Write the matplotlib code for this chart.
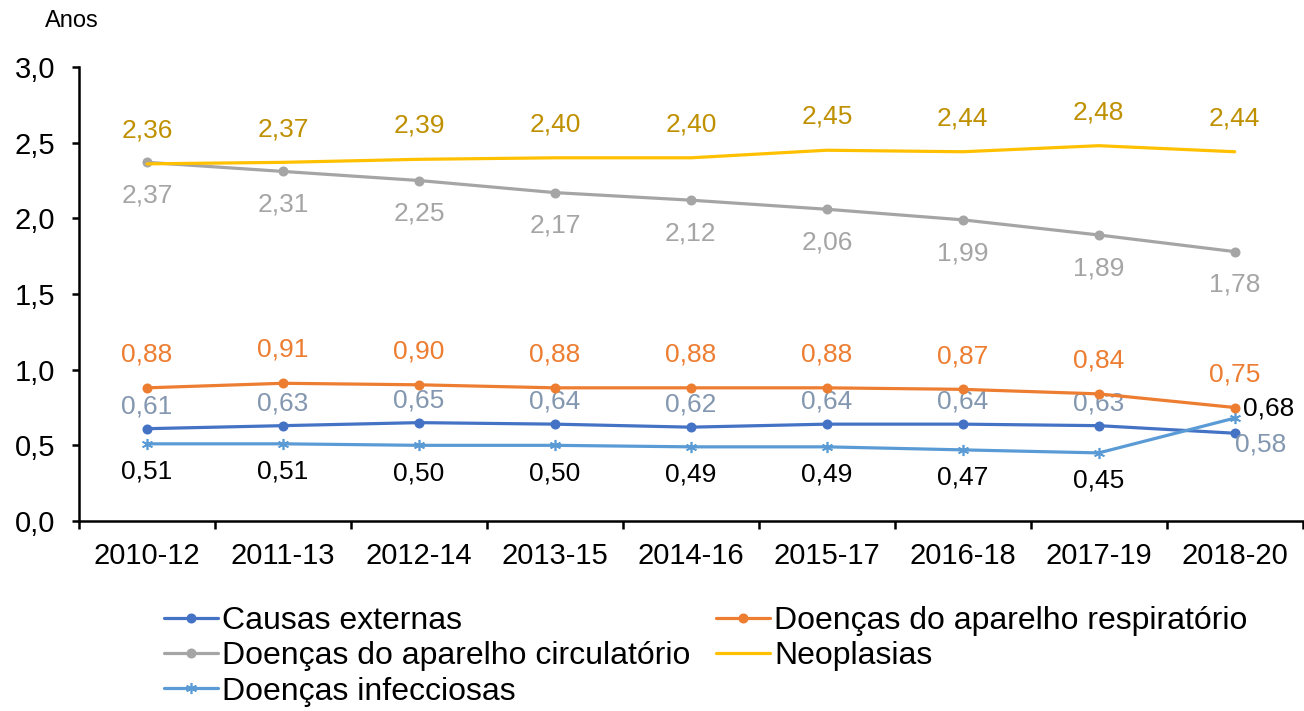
import numpy as np
import matplotlib
matplotlib.use('Agg')
import matplotlib.pyplot as plt
from matplotlib.ticker import FuncFormatter

plt.rcParams['font.family'] = ['Liberation Sans', 'DejaVu Sans']

# Data
periods = ['2010-12', '2011-13', '2012-14', '2013-15', '2014-16',
           '2015-17', '2016-18', '2017-19', '2018-20']
causas_externas = [0.61, 0.63, 0.65, 0.64, 0.62, 0.64, 0.64, 0.63, 0.58]
respiratorio = [0.88, 0.91, 0.90, 0.88, 0.88, 0.88, 0.87, 0.84, 0.75]
circulatorio = [2.37, 2.31, 2.25, 2.17, 2.12, 2.06, 1.99, 1.89, 1.78]
neoplasias = [2.36, 2.37, 2.39, 2.40, 2.40, 2.45, 2.44, 2.48, 2.44]
infecciosas = [0.51, 0.51, 0.50, 0.50, 0.49, 0.49, 0.47, 0.45, 0.68]

fig = plt.figure(figsize=(13.04, 7.11), dpi=100)
ax = fig.add_axes([79/1304, 1 - 521/711, 1 - 79/1304 - 0.001, (521 - 67)/711])

x = np.arange(len(periods))
fs_lab = 19    # data labels
fs_tick = 21   # axis tick labels
fs_leg = 23    # legend


def fmt(v):
    return f'{v:.2f}'.replace('.', ',')


# series: (values, label, line colour, marker, label colour, label offset)
series = [
    (causas_externas, 'Causas externas', '#4472C4', 'o', '#8497B0', 16),
    (circulatorio, 'Doenças do aparelho circulatório', '#A5A5A5', 'o', '#A5A5A5', -24),
    (infecciosas, 'Doenças infecciosas', '#5B9BD5', (6, 2, 0), 'black', -20),
    (respiratorio, 'Doenças do aparelho respiratório', '#ED7D31', 'o', '#ED7D31', 24),
    (neoplasias, 'Neoplasias', '#FFC000', None, '#BF9000', 24),
]

for vals, name, col, mk, lcol, off in series:
    ms = 8 if mk == (6, 2, 0) else 6
    ax.plot(x, vals, color=col, lw=2.3, marker=mk, markersize=ms,
            markeredgewidth=1.2, label=name, solid_capstyle='round', zorder=3)
    for i, v in enumerate(vals):
        dx, dy, ha = 0, off, 'center'
        if i == len(vals) - 1 and name == 'Causas externas':
            dx, dy, ha = 0, -8, 'left'
        elif i == len(vals) - 1 and name == 'Doenças infecciosas':
            dx, dy, ha = 6, 7, 'left'
        ax.annotate(fmt(v), (x[i], v), xytext=(dx, dy), textcoords='offset points',
                    ha=ha, va='center', color=lcol, fontsize=fs_lab)

ax.set_xlim(-0.5, len(periods) - 0.5)
ax.set_ylim(0, 3.0)
ax.set_yticks(np.arange(0, 3.01, 0.5))
ax.yaxis.set_major_formatter(FuncFormatter(lambda v, p: f'{v:.1f}'.replace('.', ',')))
ax.set_xticks(x)
ax.set_xticklabels(periods)
ax.set_xticks(np.arange(-0.5, len(periods), 1), minor=True)
ax.tick_params(axis='x', which='major', length=0, pad=15, labelsize=fs_tick)
ax.tick_params(axis='x', which='minor', length=6, width=1.8)
ax.tick_params(axis='y', length=5, width=1.8, pad=12, labelsize=fs_tick)

for s in ['top', 'right']:
    ax.spines[s].set_visible(False)
for s in ['left', 'bottom']:
    ax.spines[s].set_linewidth(1.8)

fig.text(45/1304, 1 - 21/711, 'Anos', fontsize=17, va='center', ha='left')

fig.legend(loc='upper left', bbox_to_anchor=(151/1304, 1 - 593/711),
           bbox_transform=fig.transFigure, ncol=2, frameon=False, fontsize=fs_leg,
           handlelength=1.7, handletextpad=0.12, columnspacing=0.8,
           labelspacing=0.17, borderaxespad=0)

fig.savefig('out.png', dpi=100)
